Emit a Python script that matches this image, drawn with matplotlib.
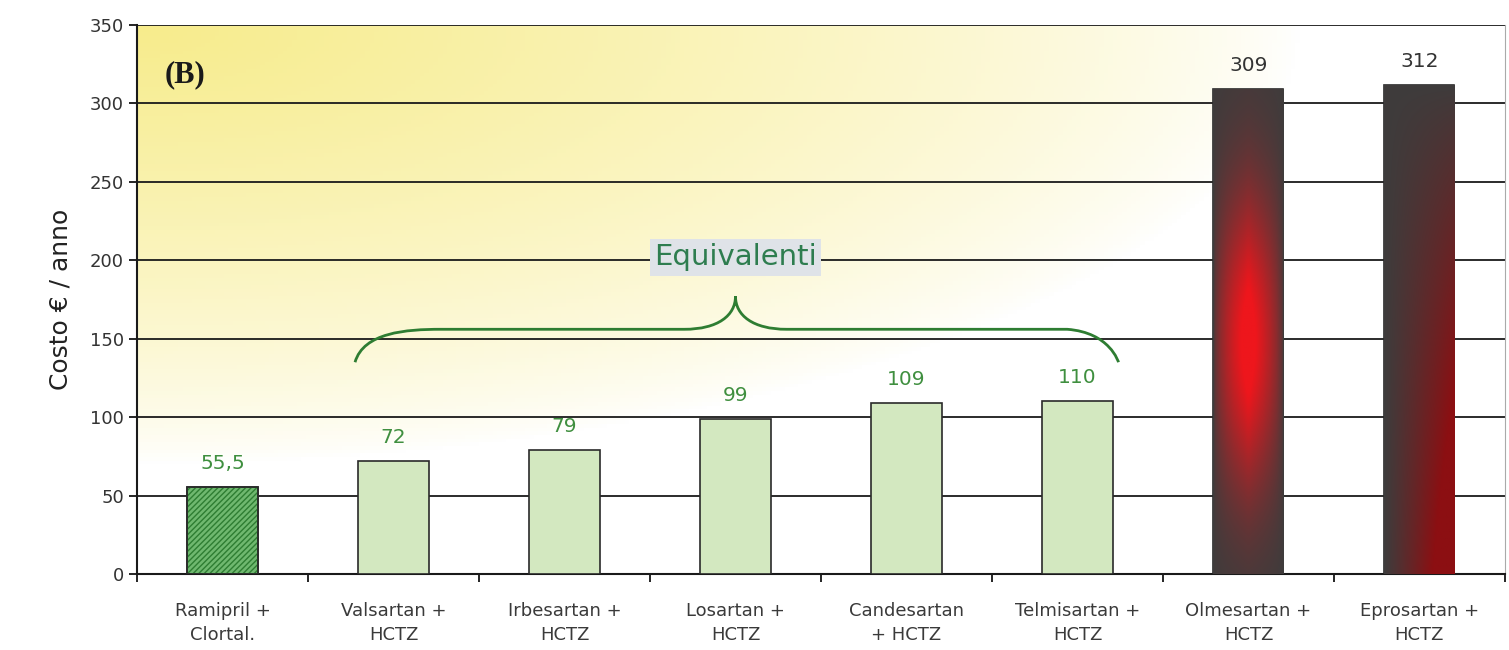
import numpy as np
import matplotlib.pyplot as plt
from matplotlib.path import Path
from matplotlib.patches import PathPatch

# Dati
categorie = ['Ramipril +\nClortal.', 'Valsartan +\nHCTZ', 'Irbesartan +\nHCTZ',
             'Losartan +\nHCTZ', 'Candesartan\n+ HCTZ', 'Telmisartan +\nHCTZ',
             'Olmesartan +\nHCTZ', 'Eprosartan +\nHCTZ']
costi = [55.5, 72, 79, 99, 109, 110, 309, 312]
etichette = ['55,5', '72', '79', '99', '109', '110', '309', '312']
yticks = [0, 50, 100, 150, 200, 250, 300, 350]

verde_testo = '#3f8f3f'
grigio_testo = '#333333'

fig = plt.figure(figsize=(15.09, 6.5), dpi=100)
ax = fig.add_axes([0.0908, 0.117, 0.9065, 0.8445])

x = np.arange(len(categorie))
ax.set_xlim(-0.5, len(categorie) - 0.5)
ax.set_ylim(0, 350)

# Sfondo sfumato giallo
nx, ny = 300, 150
u = np.linspace(0, 1, nx)
v = np.linspace(1, 0, ny)
U, V = np.meshgrid(u, v)
peso = np.clip(1 - np.sqrt((U / 0.85) ** 2 + ((1 - V) / 0.8) ** 2), 0, 1) ** 0.75
giallo = np.array([247, 236, 140]) / 255
bianco = np.array([1.0, 1.0, 1.0])
sfondo = bianco[None, None, :] * (1 - peso[..., None]) + giallo[None, None, :] * peso[..., None]
ax.imshow(sfondo, extent=[0, 1, 0, 1], transform=ax.transAxes, aspect='auto', zorder=0)

# Griglia
for yv in yticks[1:]:
    ax.axhline(yv, color='#1a1a1a', lw=1.3, zorder=1)

# Barre
larghezza = 0.41
barre = ax.bar(x, costi, width=larghezza, zorder=3, color='#d3e8c0', edgecolor='#2a2a2a', lw=1.2)

# prima barra tratteggiata
barre[0].set_facecolor('#6fb86f')
ax.bar(x[0], costi[0], width=larghezza, zorder=3.5, facecolor='none',
       edgecolor='#2e7d32', hatch='//////', lw=0)
ax.bar(x[0], costi[0], width=larghezza, zorder=3.6, facecolor='none',
       edgecolor='#2a2a2a', lw=1.2)

# barre sfumate (Olmesartan, Eprosartan)
scuro = np.array([62, 60, 60]) / 255
rosso_vivo = np.array([238, 22, 28]) / 255
rosso_scuro = np.array([140, 15, 18]) / 255
hu = np.linspace(0, 1, 60)
hv = np.linspace(1, 0, 200)
HU, HV = np.meshgrid(hu, hv)

t1 = np.clip(1 - np.abs(2 * HU - 1), 0, 1) ** 0.6 * np.exp(-((HV - 0.48) / 0.3) ** 2)
t1 = np.clip(t1 * 1.15, 0, 1)
img1 = scuro * (1 - t1[..., None]) + rosso_vivo * t1[..., None]
t2 = np.clip(HU ** 1.1 * (1 - HV) ** 0.9 * 1.5, 0, 1)
img2 = scuro * (1 - t2[..., None]) + rosso_scuro * t2[..., None]

for b, img in [(barre[6], img1), (barre[7], img2)]:
    b.set_facecolor('none')
    x0, y0, w, h = b.get_x(), b.get_y(), b.get_width(), b.get_height()
    im = ax.imshow(img, extent=[x0, x0 + w, y0, y0 + h], aspect='auto', zorder=3)
    im.set_clip_path(b)

# Etichette valori
for i, (c, lab) in enumerate(zip(costi, etichette)):
    col = verde_testo if i < 6 else grigio_testo
    ax.text(x[i], c + 9, lab, ha='center', va='bottom', fontsize=14.5, color=col, zorder=5)

# Parentesi graffa "Equivalenti"
xa, xb, xp = 0.775, 5.24, 3.0
yb, yl, yp = 135, 156, 177
verts = [(xa, yb), (xa + 0.05, yl - 2), (xa + 0.3, yl), (xa + 0.5, yl),
         (xp - 0.6, yl), (xp - 0.6, yl), (xp - 0.3, yl),
         (xp - 0.1, yl), (xp, yp - 12), (xp, yp),
         (xp, yp - 12), (xp + 0.1, yl), (xp + 0.3, yl),
         (xb - 0.5, yl), (xb - 0.5, yl), (xb - 0.3, yl),
         (xb - 0.05, yl - 2), (xb, yb), (xb, yb)]
codici = [Path.MOVETO, Path.CURVE4, Path.CURVE4, Path.CURVE4,
          Path.LINETO, Path.LINETO, Path.LINETO,
          Path.CURVE4, Path.CURVE4, Path.CURVE4,
          Path.CURVE4, Path.CURVE4, Path.CURVE4,
          Path.LINETO, Path.LINETO, Path.LINETO,
          Path.CURVE4, Path.CURVE4, Path.CURVE4]
ax.add_patch(PathPatch(Path(verts, codici), fc='none', ec='#2e7d32', lw=2, zorder=4))
ax.text(xp, 202, 'Equivalenti', ha='center', va='center', fontsize=21, color='#2e7d4f',
        zorder=5, bbox=dict(boxstyle='square,pad=0.15', fc='#dfe3e8', ec='none'))

ax.text(0.02, 0.91, '(B)', transform=ax.transAxes, fontsize=22, fontweight='bold',
        family='Liberation Serif', color='#1a1a1a', va='center', ha='left', zorder=5)

# Assi
ax.set_yticks(yticks)
ax.set_yticklabels([str(t) for t in yticks], fontsize=13, color=grigio_testo)
ax.set_xticks(x)
ax.set_xticklabels(categorie, fontsize=13, color='#3a3a3a', linespacing=1.45)
ax.tick_params(axis='x', length=0, pad=20)
ax.set_xticks(np.arange(-0.5, len(categorie)), minor=True)
ax.tick_params(axis='x', which='minor', length=6, width=1.2, direction='out')
ax.tick_params(axis='y', length=6, width=1.2, direction='out')
ax.set_ylabel('Costo € / anno', fontsize=18, color='#222222', labelpad=12)

for s in ['left', 'bottom']:
    ax.spines[s].set_linewidth(1.5)
    ax.spines[s].set_color('#1a1a1a')
ax.spines['top'].set_visible(False)
ax.spines['right'].set_color('#aaaaaa')

fig.savefig('out.png', dpi=100)
